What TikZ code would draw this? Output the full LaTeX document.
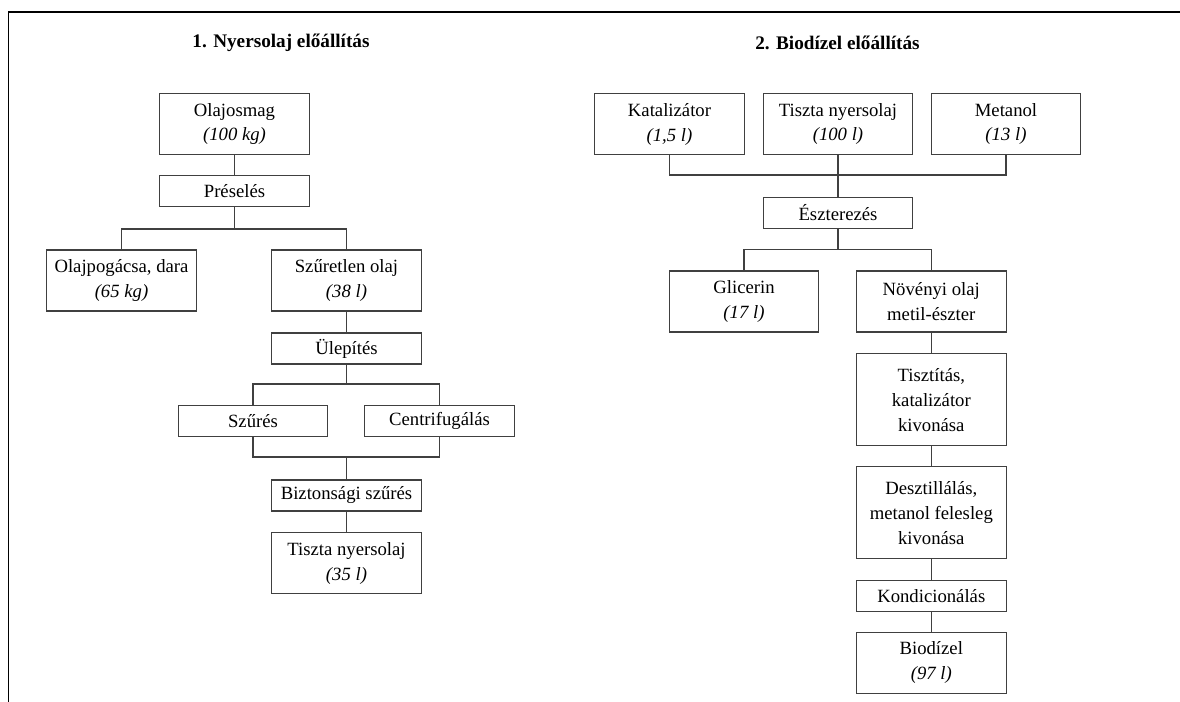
\documentclass[tikz,border=0pt]{standalone}
\usepackage{fontspec}
\setmainfont{Liberation Serif}
\usepackage{tikz}

\begin{document}
\begin{tikzpicture}[
    x=0.5pt, y=-0.5pt,
    box/.style={draw=black!75, line width=0.55pt, rectangle, minimum width=74.75pt, inner sep=1pt, align=center,
        font=\fontsize{9.35}{12.5}\selectfont},
    stepbox/.style={box, minimum height=15.5pt},
    databox/.style={box, minimum height=30.5pt},
    tallbox/.style={box, minimum height=46pt},
    title/.style={font=\fontsize{9.6}{12}\selectfont\bfseries},
    link/.style={draw=black!75, line width=0.55pt}
]
\useasboundingbox (0,0) rectangle (1180,702);

% Frame
\draw[line width=0.8pt] (1180,12) -- (8.5,12) -- (8.5,702);

% Titles
\node[title] (title1) at (281,43) {1. Nyersolaj előállítás};
\node[title] (title2) at (837.5,43) {2. Biodízel előállítás};

% Nyersolaj
\node[databox] (olajosmag) at (234.5,124) {Olajosmag\\\textit{(100 kg)}};
\node[stepbox] (preseles) at (234.5,191) {Préselés};
\node[databox] (pogacsa) at (121.5,280.5) {Olajpogácsa, dara\\\textit{(65 kg)}};
\node[databox] (szuretlen) at (346.5,280.5) {Szűretlen olaj\\\textit{(38 l)}};
\node[stepbox] (ulepites) at (346.5,348.5) {Ülepítés};
\node[stepbox] (szures) at (253,421) {Szűrés};
\node[stepbox] (centrifuga) at (439.5,421) {Centrifugálás};
\node[stepbox] (biztonsagi) at (346.5,495.5) {Biztonsági szűrés};
\node[databox] (nyersolaj) at (346.5,563) {Tiszta nyersolaj\\\textit{(35 l)}};

% Biodizel
\node[databox] (katalizator) at (669.5,124) {Katalizátor\\\textit{(1,5 l)}};
\node[databox] (tiszta) at (838,124) {Tiszta nyersolaj\\\textit{(100 l)}};
\node[databox] (metanol) at (1006,124) {Metanol\\\textit{(13 l)}};
\node[stepbox] (eszterezes) at (838,212.7) {Észterezés};
\node[databox] (glicerin) at (744,301.5) {Glicerin\\\textit{(17 l)}};
\node[databox] (novenyi) at (931.3,301.5) {Növényi olaj\\metil-észter};
\node[tallbox] (tisztitas) at (931.3,399.7) {Tisztítás,\\katalizátor\\kivonása};
\node[tallbox] (desztillalas) at (931.3,512.8) {Desztillálás,\\metanol felesleg\\kivonása};
\node[stepbox] (kondicionalas) at (931.3,596.2) {Kondicionálás};
\node[databox] (biodizel) at (931.3,662.8) {Biodízel\\\textit{(97 l)}};

% Junctions
\coordinate (j1) at (0,229);
\coordinate (j2) at (0,384);
\coordinate (j3) at (0,457);
\coordinate (j4) at (0,175);
\coordinate (j5) at (0,249.7);

% Connections
\draw[link] (olajosmag) -- (preseles);
\draw[link] (preseles.south) -- (preseles.south |- j1);
\draw[link] (pogacsa.north) |- (szuretlen.north |- j1) -- (szuretlen.north);
\draw[link] (szuretlen) -- (ulepites);
\draw[link] (ulepites.south) -- (ulepites.south |- j2);
\draw[link] (szures.north) |- (centrifuga.north |- j2) -- (centrifuga.north);
\draw[link] (szures.south) |- (centrifuga.south |- j3) -- (centrifuga.south);
\draw[link] (biztonsagi.north |- j3) -- (biztonsagi.north);
\draw[link] (biztonsagi) -- (nyersolaj);

\draw[link] (katalizator.south) |- (metanol.south |- j4) -- (metanol.south);
\draw[link] (tiszta) -- (eszterezes);
\draw[link] (eszterezes.south) -- (eszterezes.south |- j5);
\draw[link] (glicerin.north) |- (novenyi.north |- j5) -- (novenyi.north);
\draw[link] (novenyi) -- (tisztitas);
\draw[link] (tisztitas) -- (desztillalas);
\draw[link] (desztillalas) -- (kondicionalas);
\draw[link] (kondicionalas) -- (biodizel);

\end{tikzpicture}
\end{document}
